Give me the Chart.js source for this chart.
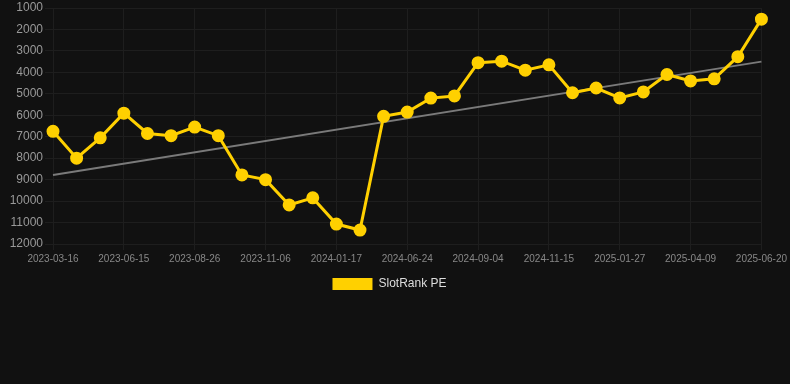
<!DOCTYPE html>
<html>
<head>
<meta charset="utf-8">
<script src="https://cdn.jsdelivr.net/npm/chart.js@4"></script>
<style>
  html, body { margin: 0; padding: 0; background: #111111; }
  #wrap { position: relative; width: 790px; height: 300px; }
</style>
</head>
<body>
<div id="wrap"><canvas id="chart"></canvas></div>
<script>
var dates = ['2023-03-16', '2023-04-15', '2023-05-16', '2023-06-15', '2023-07-09', '2023-08-02',
  '2023-08-26', '2023-09-19', '2023-10-13', '2023-11-06', '2023-11-30', '2023-12-24',
  '2024-01-17', '2024-03-10', '2024-05-02', '2024-06-24', '2024-07-18', '2024-08-11',
  '2024-09-04', '2024-09-28', '2024-10-22', '2024-11-15', '2024-12-09', '2025-01-02',
  '2025-01-27', '2025-02-20', '2025-03-16', '2025-04-09', '2025-05-03', '2025-05-27',
  '2025-06-20'];

var rankPE = [6750, 8000, 7050, 5900, 6850, 6950, 6550, 6950, 8780, 9000, 10180, 9850,
  11070, 11350, 6050, 5850, 5200, 5100, 3550, 3480, 3900, 3650, 4950, 4730,
  5190, 4910, 4100, 4400, 4300, 3270, 1520];

// trend line: only the two ends are known, the rest is spanned
var trendStart = 8780;
var trendEnd = 3500;
var trend = dates.map(function (d, i) {
  if (i === 0) return trendStart;
  if (i === dates.length - 1) return trendEnd;
  return null;
});

var yMin = 1000;
var yMax = 12000;

new Chart(document.getElementById('chart'), {
  type: 'line',
  data: {
    labels: dates,
    datasets: [
      {
        label: 'SlotRank PE',
        data: rankPE,
        borderColor: '#ffd000',
        backgroundColor: '#ffd000',
        borderWidth: 3,
        pointRadius: 5,
        pointBackgroundColor: '#ffd000',
        pointBorderColor: '#ffd000',
        tension: 0
      },
      {
        label: 'Trend',
        data: trend,
        spanGaps: true,
        borderColor: '#7a7a7a',
        borderWidth: 2,
        pointRadius: 0,
        fill: false
      }
    ]
  },
  options: {
    responsive: true,
    maintainAspectRatio: false,
    animation: false,
    layout: { padding: { top: 0, right: 11, left: 0 } },
    plugins: {
      legend: {
        position: 'bottom',
        labels: {
          color: '#dddddd',
          boxWidth: 40,
          boxHeight: 12,
          font: { family: 'Liberation Sans, Arial, sans-serif', size: 12 },
          filter: function (item) { return item.datasetIndex === 0; },
          generateLabels: function (chart) {
            var items = Chart.defaults.plugins.legend.labels.generateLabels(chart);
            items.forEach(function (it) { it.lineWidth = 0; });
            return items;
          }
        }
      },
      tooltip: { enabled: false }
    },
    scales: {
      x: {
        grid: {
          color: function (ctx) { return ctx.index % 3 === 0 ? '#1e1e1e' : 'rgba(0,0,0,0)'; },
          tickLength: 6
        },
        border: { color: '#1e1e1e' },
        ticks: {
          autoSkip: false,
          maxRotation: 0,
          color: '#888888',
          font: { family: 'Liberation Sans, Arial, sans-serif', size: 10 },
          callback: function (val, i) { return i % 3 === 0 ? dates[i] : ''; }
        }
      },
      y: {
        reverse: true,
        min: yMin,
        max: yMax,
        afterFit: function (scale) { scale.width = 53; },
        grid: { color: '#1e1e1e', tickLength: 8 },
        border: { color: '#1e1e1e' },
        ticks: {
          stepSize: 1000,
          padding: 2,
          color: '#999999',
          font: { family: 'Liberation Sans, Arial, sans-serif', size: 12, lineHeight: 1 },
          callback: function (v) { return String(v); }
        }
      }
    }
  }
});
</script>
</body>
</html>
